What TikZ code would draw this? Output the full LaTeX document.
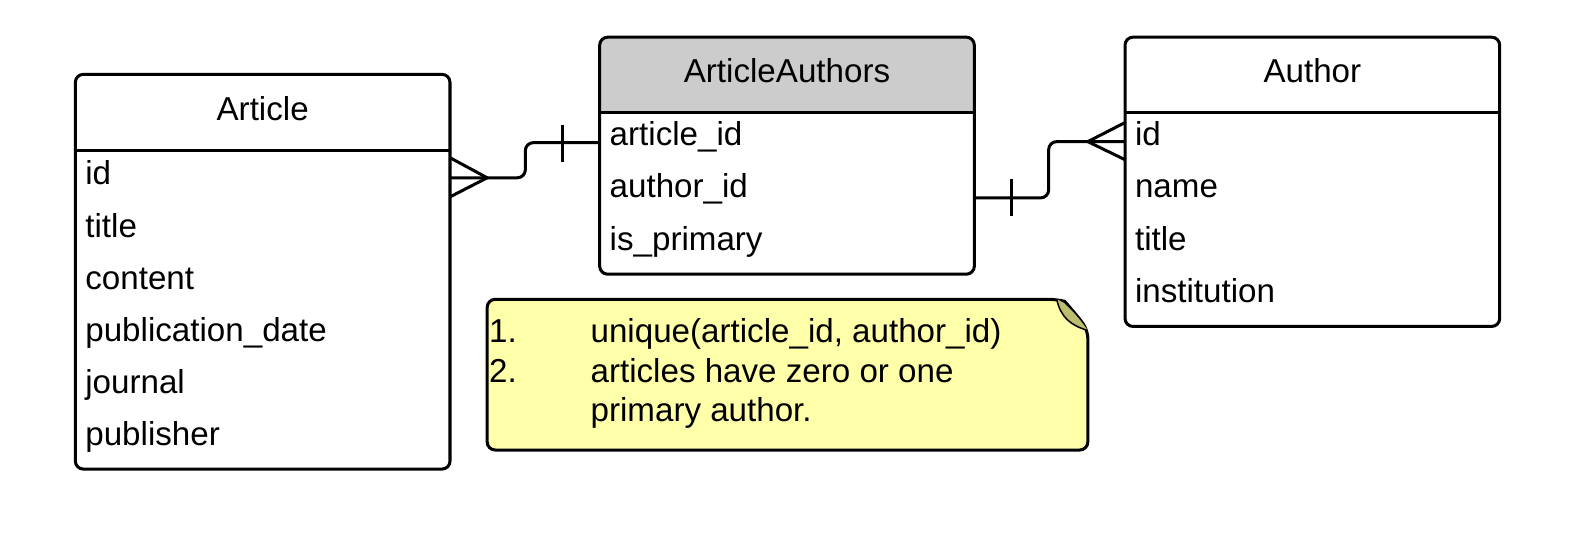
\documentclass[tikz,border=0pt]{standalone}
\usepackage{fontspec}
\setmainfont{Liberation Sans}
\usetikzlibrary{positioning}

\definecolor{hdrgray}{HTML}{CCCCCC}
\definecolor{noteyellow}{HTML}{FFFFAA}
\definecolor{foldolive}{HTML}{BDBD6E}

\begin{document}
\begin{tikzpicture}[x=1pt, y=-1pt,
    every node/.style={font=\fontsize{33}{40}\selectfont, inner sep=0pt, outer sep=0pt},
    tbl/.style={draw, line width=3pt, rounded corners=8pt, anchor=north west},
    field/.style={anchor=base west},
    title/.style={anchor=base},
    sep/.style={line width=3pt},
    link/.style={line width=3pt, rounded corners=8pt},
    tick/.style={line width=3pt},
    note/.style={draw, line width=3pt, fill=noteyellow, rounded corners=8pt},
]
\useasboundingbox (0,0) rectangle (1568,544);

% --- Header fill (ArticleAuthors) ---
\begin{scope}
  \clip[rounded corners=8pt] (597,37) rectangle (970,273);
  \fill[hdrgray] (597,37) rectangle (970,112);
\end{scope}

% --- Tables ---
\node[tbl, minimum width=373pt, minimum height=393pt] (article) at (75,74) {};
\node[tbl, minimum width=373pt, minimum height=236pt] (aa) at (597,37) {};
\node[tbl, minimum width=373pt, minimum height=288pt] (author) at (1120,37) {};

\draw[sep] (article.west |- 0,150) -- (article.east |- 0,150);
\draw[sep] (aa.west |- 0,112) -- (aa.east |- 0,112);
\draw[sep] (author.west |- 0,112) -- (author.east |- 0,112);

% --- Article ---
\node[title] (article-h) at (261.5,120) {Article};
\node[field] (article-id) at (85,184) {id};
\node[field] (article-title) at (85,236) {title};
\node[field] (article-content) at (85,288) {content};
\node[field] (article-date) at (85,340) {publication\_date};
\node[field] (article-journal) at (85,392) {journal};
\node[field] (article-pub) at (85,444) {publisher};

% --- ArticleAuthors ---
\node[title] (aa-h) at (783.5,82) {ArticleAuthors};
\node[field] (aa-article) at (607,145) {article\_id};
\node[field] (aa-author) at (607,197) {author\_id};
\node[field] (aa-primary) at (607,249) {is\_primary};

% --- Author ---
\node[title] (author-h) at (1306.5,82) {Author};
\node[field] (author-id) at (1130,145) {id};
\node[field] (author-name) at (1130,197) {name};
\node[field] (author-title) at (1130,249) {title};
\node[field] (author-inst) at (1130,301) {institution};

% --- Links ---
% Article -- ArticleAuthors
\draw[link] (article.east |- 0,177) -- (523,177) -- (523,142) -- (aa.west |- 0,142);
\draw[tick] (article.east |- 0,157) -- (485,177) -- (article.east |- 0,196);
\draw[tick] (560,124) -- (560,161);
% ArticleAuthors -- Author
\draw[link] (aa.east |- 0,197) -- (1044,197) -- (1044,141) -- (author.west |- 0,141);
\draw[tick] (author.west |- 0,122) -- (1083,141) -- (author.west |- 0,159);
\draw[tick] (1007,178) -- (1007,215);

% --- Note ---
\draw[note] (485,298) -- (1052,298) .. controls (1060,300) and (1074,316) .. (1083,329) -- (1083,448) -- (485,448) -- cycle;
\fill[foldolive] (1052,298) .. controls (1060,300) and (1074,316) .. (1083,329) .. controls (1066,324) and (1056,316) .. (1052,298);
\draw[line width=1.5pt] (1052,298) .. controls (1056,316) and (1066,324) .. (1083,329);

\node[field] (note-1) at (487,341) {1.};
\node[field] (note-1t) at (588,341) {unique(article\_id, author\_id)};
\node[field] (note-2) at (487,381) {2.};
\node[field] (note-2t) at (588,381) {articles have zero or one};
\node[field] (note-2u) at (588,420) {primary author.};

\end{tikzpicture}
\end{document}
